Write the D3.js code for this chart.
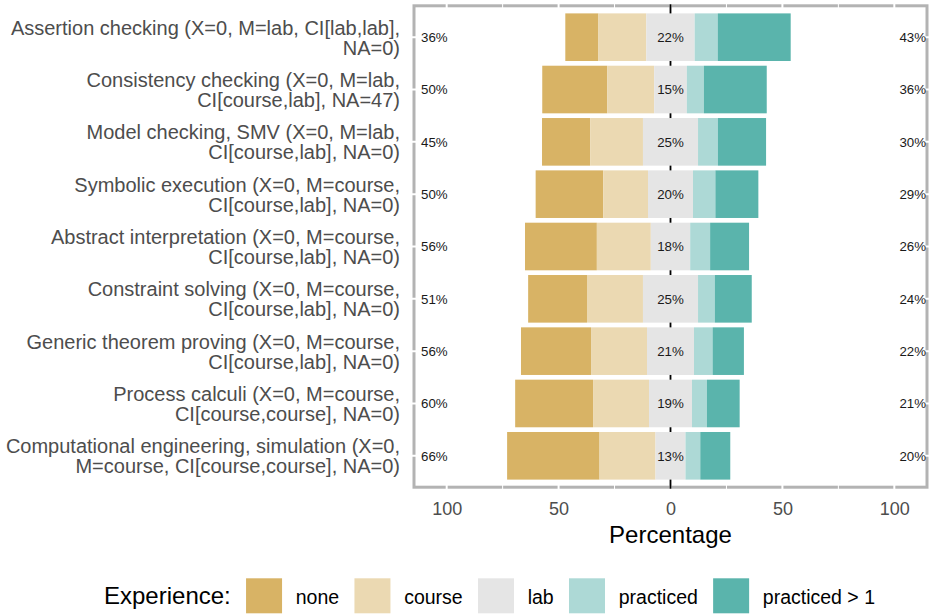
<!DOCTYPE html>
<html>
<head>
<meta charset="utf-8">
<script src="https://cdn.jsdelivr.net/npm/d3@7"></script>
<style>
  html, body { margin: 0; padding: 0; background: #fff; }
  svg { display: block; font-family: "Liberation Sans", Arial, Helvetica, sans-serif; }
</style>
</head>
<body>
<svg id="chart" width="932" height="615"></svg>
<script>
// ---------------- DATA ----------------
const categories = [
  ["Assertion checking (X=0, M=lab, CI[lab,lab],", "NA=0)"],
  ["Consistency checking (X=0, M=lab,", "CI[course,lab], NA=47)"],
  ["Model checking, SMV (X=0, M=lab,", "CI[course,lab], NA=0)"],
  ["Symbolic execution (X=0, M=course,", "CI[course,lab], NA=0)"],
  ["Abstract interpretation (X=0, M=course,", "CI[course,lab], NA=0)"],
  ["Constraint solving (X=0, M=course,", "CI[course,lab], NA=0)"],
  ["Generic theorem proving (X=0, M=course,", "CI[course,lab], NA=0)"],
  ["Process calculi (X=0, M=course,", "CI[course,course], NA=0)"],
  ["Computational engineering, simulation (X=0,", "M=course, CI[course,course], NA=0)"]
];
const levels = ["none", "course", "lab", "practiced", "practiced > 1"];
const none          = [14.8, 29.0, 21.5, 30.2, 32.1, 26.3, 31.3, 34.8, 41.3];
const course        = [21.4, 21.0, 23.6, 20.0, 24.1, 25.0, 25.0, 25.0, 25.0];
const lab           = [21.6, 14.6, 24.6, 20.1, 17.6, 24.6, 21.0, 19.2, 13.4];
const practiced     = [10.3,  7.6,  8.9, 10.0,  8.9,  7.5,  8.3,  6.7,  6.6];
const practicedMore = [32.6, 28.1, 21.5, 19.2, 17.4, 16.5, 14.0, 14.6, 13.4];
const xTicks = [-100, -50, 0, 50, 100];
const xMinorTicks = [-75, -25, 25, 75];
const colors = ["#D8B365", "#EBD9B2", "#E5E5E5", "#ADD9D6", "#5AB4AC"];

// ---------------- LAYOUT ----------------
const svg = d3.select("#chart");
const panel = { left: 414, right: 927, top: 5.8, bottom: 487.2 };
const x = d3.scaleLinear().domain([-114.6, 114.6]).range([panel.left, panel.right]);
const keys = categories.map((c, i) => "c" + i);
const y = d3.scalePoint().domain(keys).range([panel.top, panel.bottom]).padding(0.6);
const barH = y.step() * 0.91;

const rows = keys.map((k, i) => {
  const vals = [none[i], course[i], lab[i], practiced[i], practicedMore[i]];
  const start = -(lab[i] / 2 + course[i] + none[i]);
  let acc = start;
  const segs = vals.map((v, j) => {
    const s = { key: k, level: j, x0: acc, x1: acc + v };
    acc += v;
    return s;
  });
  return { key: k, segs,
    left: Math.round(none[i] + course[i]),
    mid: Math.round(lab[i]),
    right: Math.round(practiced[i] + practicedMore[i]) };
});

// ---------------- PANEL ----------------
svg.append("rect")
  .attr("x", panel.left).attr("y", panel.top)
  .attr("width", panel.right - panel.left).attr("height", panel.bottom - panel.top)
  .attr("fill", "#fff").attr("stroke", "#B3B3B3").attr("stroke-width", 3);

const grid = svg.append("g");
grid.selectAll("line.minor").data(xMinorTicks).join("line")
  .attr("x1", d => x(d)).attr("x2", d => x(d))
  .attr("y1", panel.top - 2).attr("y2", panel.bottom + 2)
  .attr("stroke", "#fff").attr("stroke-width", 1);
grid.selectAll("line.major").data(xTicks).join("line")
  .attr("x1", d => x(d)).attr("x2", d => x(d))
  .attr("y1", panel.top - 2).attr("y2", panel.bottom + 2)
  .attr("stroke", "#fff").attr("stroke-width", 2);
grid.selectAll("line.ymajor").data(keys).join("line")
  .attr("x1", panel.left - 2).attr("x2", panel.right + 2)
  .attr("y1", d => y(d)).attr("y2", d => y(d))
  .attr("stroke", "#fff").attr("stroke-width", 2);

// zero line
svg.append("line")
  .attr("x1", x(0)).attr("x2", x(0))
  .attr("y1", panel.top - 1.5).attr("y2", panel.bottom + 1.5)
  .attr("stroke", "#000").attr("stroke-width", 1.8);

// bars
svg.append("g").selectAll("rect")
  .data(rows.flatMap(r => r.segs)).join("rect")
  .attr("x", d => x(d.x0))
  .attr("width", d => x(d.x1) - x(d.x0))
  .attr("y", d => y(d.key) - barH / 2)
  .attr("height", barH)
  .attr("fill", d => colors[d.level]);

// percentage labels
const pctG = svg.append("g").attr("font-size", 13.3).attr("fill", "#1A1A1A");
pctG.selectAll("text.l").data(rows).join("text")
  .attr("x", 421).attr("y", d => y(d.key) + 4.7)
  .attr("text-anchor", "start").text(d => d.left + "%");
pctG.selectAll("text.m").data(rows).join("text")
  .attr("x", x(0)).attr("y", d => y(d.key) + 4.7)
  .attr("text-anchor", "middle").text(d => d.mid + "%");
pctG.selectAll("text.r").data(rows).join("text")
  .attr("x", 926).attr("y", d => y(d.key) + 4.7)
  .attr("text-anchor", "end").text(d => d.right + "%");

// ---------------- AXES ----------------
const xAxis = svg.append("g")
  .attr("transform", `translate(0,${panel.bottom})`)
  .call(d3.axisBottom(x).tickValues(xTicks).tickFormat(d => Math.abs(d)).tickSize(0));
xAxis.select(".domain").remove();
xAxis.selectAll("text")
  .attr("y", 0).attr("dy", null)
  .attr("transform", "translate(0,27.8)")
  .attr("font-size", 18).attr("fill", "#4D4D4D")
  .attr("font-family", null);

const yAxis = svg.append("g")
  .attr("transform", `translate(${panel.left},0)`)
  .call(d3.axisLeft(y).tickSize(0).tickFormat(""));
yAxis.select(".domain").remove();
yAxis.selectAll(".tick text").each(function(d) {
  const i = keys.indexOf(d);
  const t = d3.select(this)
    .attr("x", -14).attr("dy", null).attr("y", 0)
    .attr("text-anchor", "end")
    .attr("font-size", 20).attr("fill", "#4D4D4D")
    .attr("font-family", null);
  const lines = categories[i];
  const lh = 20;
  lines.forEach((ln, j) => {
    t.append("tspan")
      .attr("x", -14)
      .attr("y", (j - (lines.length - 1) / 2) * lh + 7.1)
      .text(ln);
  });
});

svg.append("text")
  .attr("x", x(0)).attr("y", 542.5)
  .attr("text-anchor", "middle")
  .attr("font-size", 24).attr("fill", "#000")
  .text("Percentage");

// ---------------- LEGEND ----------------
const leg = svg.append("g");
const legY = 578.3, keyW = 36, keyH = 35, legBase = 603.8;
const title = leg.append("text")
  .attr("x", 104).attr("y", legBase)
  .attr("font-size", 24).attr("fill", "#000")
  .text("Experience:");
let cx = 104 + title.node().getComputedTextLength() + 15.3;
levels.forEach((lv, j) => {
  leg.append("rect")
    .attr("x", cx).attr("y", legY).attr("width", keyW).attr("height", keyH)
    .attr("fill", colors[j]);
  const t = leg.append("text")
    .attr("x", cx + keyW + 13.7).attr("y", legBase)
    .attr("font-size", 19.5).attr("fill", "#000")
    .text(lv);
  cx = cx + keyW + 13.7 + t.node().getComputedTextLength() + 15.3;
});
</script>
</body>
</html>
